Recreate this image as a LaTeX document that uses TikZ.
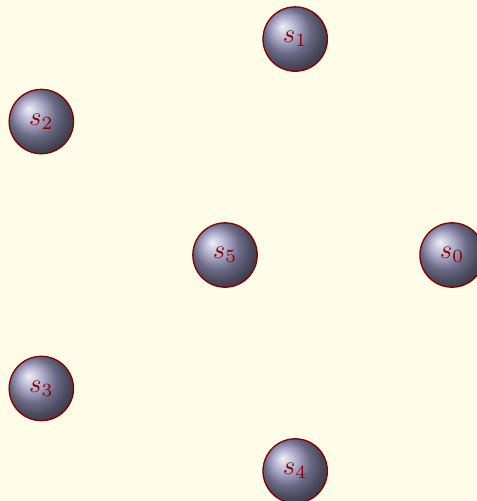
\documentclass[tikz,border=0pt]{standalone}
\usepackage{tikz}
\usetikzlibrary{shadings}
\definecolor{bgcream}{RGB}{255,253,232}
\definecolor{ballgray}{RGB}{150,150,190}
\tikzset{
  stateball/.style={
    circle,
    draw=red!50!black,
    line width=0.5pt,
    shading=ball,
    ball color=ballgray,
    text=red!55!black,
    minimum size=8.5mm,
    inner sep=0pt
  }
}
\begin{document}
\begin{tikzpicture}
  \fill[bgcream] (-2.973,-3.25) rectangle (3.329,3.369);
  \useasboundingbox (-2.973,-3.25) rectangle (3.329,3.369);
  \node[stateball] (s5) at (0,0) {$s_5$};
  \node[stateball] (s0) at (0:3) {$s_0$};
  \node[stateball] (s1) at (72:3) {$s_1$};
  \node[stateball] (s2) at (144:3) {$s_2$};
  \node[stateball] (s3) at (216:3) {$s_3$};
  \node[stateball] (s4) at (288:3) {$s_4$};
\end{tikzpicture}
\end{document}
